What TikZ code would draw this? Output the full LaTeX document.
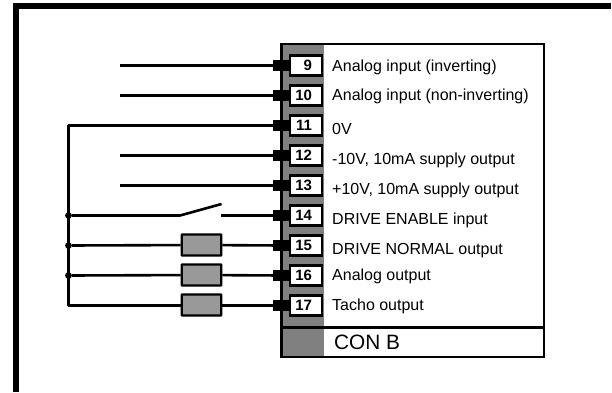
\documentclass[tikz,border=0pt]{standalone}
\usepackage{fontspec}
\setmainfont{Liberation Sans}
\definecolor{panelgrey}{RGB}{128,128,128}
\definecolor{boxgrey}{RGB}{153,153,153}
\tikzset{x=1pt,y=-1pt,
  wire/.style={line width=2.6pt,black},
  pinnum/.style={draw=black,line width=2.4pt,fill=white,minimum width=32pt,minimum height=20pt,inner sep=0pt,font=\fontsize{15}{15}\selectfont\bfseries},
  lbl/.style={anchor=base west,inner sep=0pt,font=\fontsize{16}{18}\selectfont},
  comp/.style={draw=black,line width=2.2pt,fill=boxgrey,minimum width=39.6pt,minimum height=21pt,inner sep=0pt,rounded corners=.5pt},
  lug/.style={fill=black,minimum width=16pt,minimum height=11.4pt,inner sep=0pt},
  jn/.style={circle,fill=black,minimum size=6.8pt,inner sep=0pt}}
\begin{document}
\begin{tikzpicture}
\useasboundingbox (0,0) rectangle (612,392);
\fill[white] (0,0) rectangle (612,392);
\draw[line width=5.5pt] (16.2,392) -- (16.2,6) -- (611,6);
\fill[panelgrey] (281.5,43.8) rectangle (323.7,357);
\draw[line width=2.6pt] (281.5,43.8) rectangle (543.8,357);
\draw[line width=2.6pt] (281.5,327.3) -- (543.8,327.3);
\foreach \n/\y in {9/65.5,10/95.5,11/125.5,12/155.5,13/185.5,14/215.5,15/245.5,16/275.5,17/305.5}{
  \node[lug] (lug\n) at (281,\y) {};
  \node[pinnum] (p\n) at (306,\y) {\makebox[32pt][r]{\n\kern10pt}};
}
\node[lbl] at (332,71) {Analog input (inverting)};
\node[lbl] at (332,100.7) {Analog input (non-inverting)};
\node[lbl] at (332,134.7) {0V};
\node[lbl] at (332,164) {-10V, 10mA supply output};
\node[lbl] at (332,194) {+10V, 10mA supply output};
\node[lbl] at (332,224) {DRIVE ENABLE input};
\node[lbl] at (332,254) {DRIVE NORMAL output};
\node[lbl] at (332,280) {Analog output};
\node[lbl] at (332,310) {Tacho output};
\node[lbl,font=\fontsize{20.8}{22}\selectfont] at (334,349) {CON B};
\coordinate (a9) at (120,65.5);\coordinate (a10) at (120,95.5);
\coordinate (a12) at (120,155.5);\coordinate (a13) at (120,185.5);
\draw[wire] (a9) -- (lug9);
\draw[wire] (a10) -- (lug10);
\draw[wire] (a12) -- (lug12);
\draw[wire] (a13) -- (lug13);
\node[jn] (j14) at (68.5,215.5) {};
\node[jn] (j15) at (68.5,245.5) {};
\node[jn] (j16) at (68.5,275.5) {};
\coordinate (c17) at (68.5,305.5);
\coordinate (c11) at (68.5,125.5);
\draw[wire,line join=round] (lug11) -- (c11) -- (c17) -- (lug17);
\node[comp] (r15) at (201.5,245) {};
\node[comp] (r16) at (201.5,275) {};
\node[comp] (r17) at (201.5,305) {};
\draw[wire] (j15) -- (r15) (r15) -- (lug15);
\draw[wire] (j16) -- (r16) (r16) -- (lug16);
\coordinate (s1) at (180,215.5);\coordinate (s2) at (221.5,204);\coordinate (s3) at (221,215.5);
\draw[wire] (j14) -- (s1) -- (s2);
\draw[wire] (s3) -- (lug14);
\end{tikzpicture}
\end{document}
